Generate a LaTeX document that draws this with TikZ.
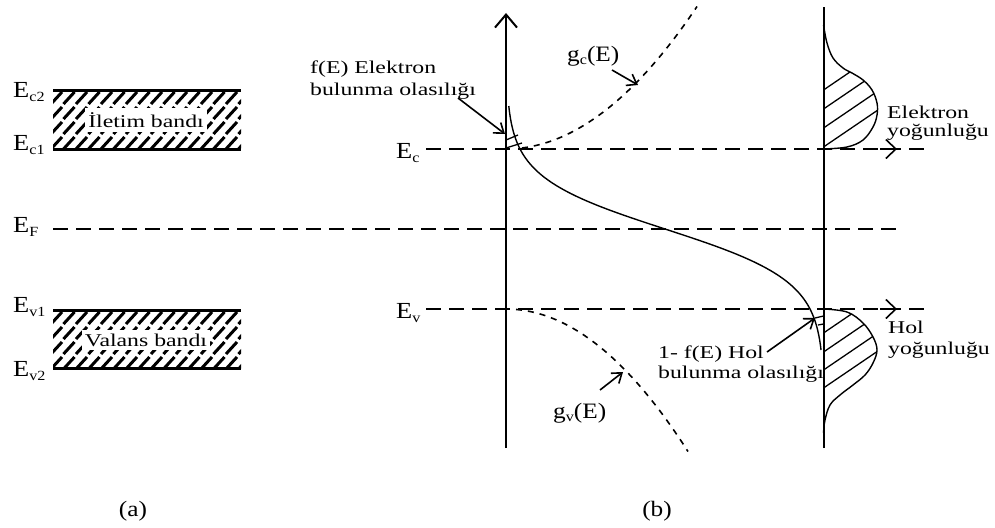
\documentclass[tikz,border=0pt]{standalone}
\usepackage{fontspec}
\setmainfont{Liberation Serif}
\newfontfamily\lblfont{Liberation Serif}[FakeStretch=1.32]
\newfontfamily\efont{Liberation Serif}[FakeStretch=1.15]
\usetikzlibrary{arrows.meta}
\newcommand{\Elab}[1]{E\raisebox{-4pt}{\fontsize{14}{14}\selectfont #1}}
\newcommand{\glab}[1]{g\raisebox{-3pt}{\fontsize{14}{14}\selectfont #1}(E)}
\begin{document}
\begin{tikzpicture}[x=1pt,y=-1pt,
  axisline/.style={line width=2pt},
  eline/.style={line width=1.8pt, dash pattern=on 15pt off 8pt},
  gcurve/.style={line width=1.6pt, dash pattern=on 6pt off 6pt},
  bandline/.style={line width=3pt},
  hatchstroke/.style={line width=3pt},
  thinhatch/.style={line width=1.3pt},
  dens/.style={line width=1.4pt},
  lbl/.style={font=\lblfont\fontsize{18}{20}\selectfont, inner sep=0pt},
  elbl/.style={font=\efont\fontsize{23}{24}\selectfont, inner sep=0pt},
  barb/.style={-{Straight Barb[length=9pt,width=13pt,line width=1.6pt]}, line width=1.6pt},
  bigbarb/.style={-{Straight Barb[length=13pt,width=22pt,line width=2pt]}, line width=2pt},
  linebarb/.style={-{Straight Barb[length=10pt,width=19pt,line width=1.6pt]}, line width=1.6pt},
]
\useasboundingbox (0,0) rectangle (995,527);

% ---------------- (a) ----------------
% conduction band
\begin{scope}
  \clip (53,90) rectangle (241,149);
  \foreach \r in {0,...,3}
    \foreach \c in {0,...,15}
      \draw[hatchstroke] ({51+\c*12.5},{90+15*\r+14}) -- ++(11,-12);
\end{scope}
\coordinate (cbnw) at (53,90); \coordinate (cbne) at (241,90);
\coordinate (cbsw) at (53,149); \coordinate (cbse) at (241,149);
\draw[bandline] (cbnw) -- (cbne);
\draw[bandline] (cbsw) -- (cbse);
\node[lbl, fill=white, inner xsep=3pt, inner ysep=4pt] (iletim) at (146,120) {İletim bandı};

% valence band
\begin{scope}
  \clip (53,310) rectangle (241,368);
  \foreach \r in {0,...,3}
    \foreach \c in {0,...,15}
      \draw[hatchstroke] ({51+\c*12.5},{310+15*\r+14}) -- ++(11,-12);
\end{scope}
\coordinate (vbnw) at (53,310); \coordinate (vbne) at (241,310);
\coordinate (vbsw) at (53,368); \coordinate (vbse) at (241,368);
\draw[bandline] (vbnw) -- (vbne);
\draw[bandline] (vbsw) -- (vbse);
\node[lbl, fill=white, inner xsep=3pt, inner ysep=4pt] (valans) at (146,340) {Valans bandı};

\node[elbl, anchor=base west] (ec2) at (13,97) {\Elab{c2}};
\node[elbl, anchor=base west] (ec1) at (13,150) {\Elab{c1}};
\node[elbl, anchor=base west] (ef) at (13,232) {\Elab{F}};
\node[elbl, anchor=base west] (ev1) at (13,312) {\Elab{v1}};
\node[elbl, anchor=base west] (ev2) at (13,376) {\Elab{v2}};

% Fermi level
\coordinate (efl) at (53,229); \coordinate (efr) at (900,229);
\draw[eline] (efl) -- (efr);

\node[elbl, font=\efont\fontsize{22}{24}\selectfont] (la) at (133,511) {(a)};
\node[elbl, font=\efont\fontsize{22}{24}\selectfont] (lb) at (657,511) {(b)};

% ---------------- (b) ----------------
\coordinate (ax0) at (506,448); \coordinate (ax1) at (506,13);
\draw[axisline, bigbarb] (ax0) -- (ax1);
\coordinate (bx0) at (823.5,448); \coordinate (bx1) at (823.5,7);
\draw[axisline] (bx0) -- (bx1);

\node[elbl, anchor=base west] (ec) at (396,158) {\Elab{c}};
\node[elbl, anchor=base west] (ev) at (396,318) {\Elab{v}};
\coordinate (ecl) at (426,149); \coordinate (ecr) at (930,149);
\coordinate (evl) at (426,309); \coordinate (evr) at (930,309);

% electron density
\begin{scope}
  \clip plot[smooth, tension=0.6] coordinates {(823.5,25) (827,43) (833,58) (843,68) (852,73) (863,80) (872,90) (877,103) (877,115) (873,127) (863,140) (847,147) (823.5,149)} -- cycle;
  \foreach \y in {90,109,128,147}
    \draw[thinhatch] (823.5,\y) -- ++(70,-47.6);
\end{scope}
\draw[dens] plot[smooth, tension=0.6] coordinates {(823.5,25) (827,43) (833,58) (843,68) (852,73) (863,80) (872,90) (877,103) (877,115) (873,127) (863,140) (847,147) (823.5,149)};

% hole density
\begin{scope}
  \clip plot[smooth, tension=0.6] coordinates {(823.5,309) (847,312) (863,323) (873,337) (877,350) (873,363) (865,375) (853,385) (840,395) (830,405) (825,420) (823.5,433)} -- cycle;
  \foreach \y in {333,352,370,388}
    \draw[thinhatch] (823.5,\y) -- ++(70,-47.6);
\end{scope}
\draw[dens] plot[smooth, tension=0.6] coordinates {(823.5,309) (847,312) (863,323) (873,337) (877,350) (873,363) (865,375) (853,385) (840,395) (830,405) (825,420) (823.5,433)};

% dashed energy lines
\draw[eline] (ecl) -- (ecr);
\draw[eline] (evl) -- (evr);
\coordinate (ectail) at (880,149); \coordinate (ectip) at (897,149);
\coordinate (evtail) at (880,309); \coordinate (evtip) at (897,309);
\draw[linebarb] (ectail) -- (ectip);
\draw[linebarb] (evtail) -- (evtip);

% Fermi function
\draw[dens] plot[domain=106:350, samples=90, variable=\t] ({506+318/(1+exp(-(\t-229)/26))}, \t);
% small hatches under f(E)
\draw[thinhatch] (506,140) -- (518,135);
\draw[thinhatch] (506,148) -- (522,143);
\draw[thinhatch] (815,318) -- (823.5,316);
\draw[thinhatch] (818,325) -- (823.5,324);

% density of states
\draw[gcurve] plot[domain=522:697, samples=40, variable=\t] (\t, {149-0.0039*(\t-506)*(\t-506)});
\draw[gcurve] plot[domain=516:688, samples=40, variable=\t] (\t, {309+0.0043*(\t-506)*(\t-506)});

% labels and arrows
\node[lbl, anchor=base west] (fe1) at (310,74) {f(E) Elektron};
\node[lbl, anchor=base west] (fe2) at (310,95) {bulunma olasılığı};
\coordinate (fea) at (458,98); \coordinate (feb) at (505,134);
\draw[barb] (fea) -- (feb);

\node[elbl, font=\efont\fontsize{22}{24}\selectfont, anchor=base west] (gc) at (567,61) {\glab{c}};
\coordinate (gca) at (612,70); \coordinate (gcb) at (638,85);
\draw[barb] (gca) -- (gcb);

\node[elbl, font=\efont\fontsize{22}{24}\selectfont, anchor=base west] (gv) at (553,418) {\glab{v}};
\coordinate (gva) at (600,390); \coordinate (gvb) at (623,372);
\draw[barb] (gva) -- (gvb);

\node[lbl, anchor=base west] (el1) at (887,118) {Elektron};
\node[lbl, anchor=base west] (el2) at (887,136) {yoğunluğu};
\node[lbl, anchor=base west] (ho1) at (888,333) {Hol};
\node[lbl, anchor=base west] (ho2) at (888,354) {yoğunluğu};

\node[lbl, anchor=base west] (hp1) at (658,358) {1- f(E) Hol};
\node[lbl, anchor=base west] (hp2) at (658,378) {bulunma olasılığı};
\coordinate (hpa) at (767,352); \coordinate (hpb) at (815,318);
\draw[barb] (hpa) -- (hpb);
\end{tikzpicture}
\end{document}
